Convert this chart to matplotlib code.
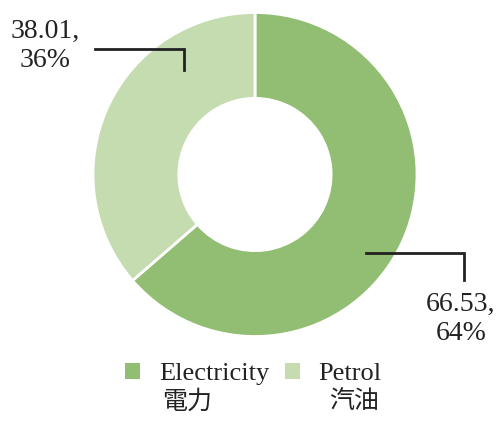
import matplotlib
matplotlib.use("Agg")
import matplotlib.pyplot as plt
from matplotlib.patches import Patch

categories = ["Electricity", "Petrol"]
categories_zh = ["電力", "汽油"]
values = [66.53, 38.01]
percents = [64, 36]
colors = ["#91BE72", "#C5DCB1"]

plt.rcParams['font.family'] = ['Liberation Serif', 'Noto Sans CJK TC', 'DejaVu Sans']

W, H = 501, 422
fig = plt.figure(figsize=(W / 100, H / 100), dpi=100)
ax = fig.add_axes([0, 0, 1, 1])

cx, cy, R = 255, H - 174.5, 162
wedges, _ = ax.pie(values, colors=colors, startangle=90, counterclock=False,
                   center=(cx, cy), radius=R, frame=True,
                   wedgeprops=dict(width=R * 0.53, edgecolor='white', linewidth=2))
ax.set_xlim(0, W)
ax.set_ylim(0, H)
ax.set_aspect('equal')
ax.axis('off')

lbl_color = "#222222"
# Petrol label
ax.plot([95, 184, 184], [H - 49, H - 49, H - 70], color=lbl_color, lw=2, solid_joinstyle='miter')
ax.text(45, H - 46, f"{values[1]:.2f},\n{percents[1]}%", ha='center', va='center',
        fontsize=20, color=lbl_color, linespacing=1.2)
# Electricity label
ax.plot([366, 464, 464], [H - 253, H - 253, H - 280], color=lbl_color, lw=2, solid_joinstyle='miter')
ax.text(461, H - 319, f"{values[0]:.2f},\n{percents[0]}%", ha='center', va='center',
        fontsize=20, color=lbl_color, linespacing=1.2)

handles = [Patch(facecolor=c, edgecolor='none') for c in colors]
leg = fig.legend(handles, categories, loc='center', bbox_to_anchor=(253.5 / W, 1 - 374 / H),
                 ncol=2, frameon=False, fontsize=19, handlelength=0.57, handleheight=0.57,
                 handletextpad=0.72, columnspacing=0.57, borderpad=0, borderaxespad=0)
for t in leg.get_texts():
    t.set_color(lbl_color)

fig.canvas.draw()
inv = fig.transFigure.inverted()
zh_offsets = [3, 10]
for t, zh, off in zip(leg.get_texts(), categories_zh, zh_offsets):
    bb = t.get_window_extent()
    x0, _ = inv.transform((bb.x0 + off, 0))
    fig.text(x0, 1 - 390 / H, zh, ha='left', va='top', fontsize=18, color=lbl_color)

fig.savefig("out.png", dpi=100)
